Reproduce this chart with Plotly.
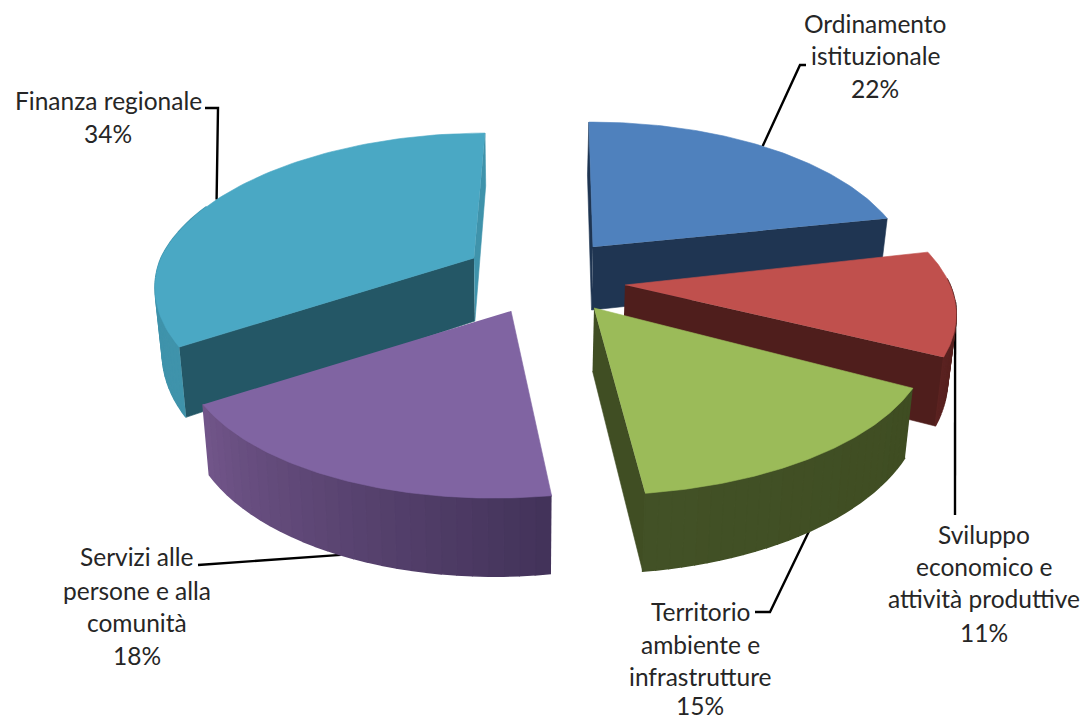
import numpy as np
import plotly.graph_objects as go

categories = ["Ordinamento istituzionale", "Sviluppo economico e attività produttive",
              "Territorio ambiente e infrastrutture", "Servizi alle persone e alla comunità",
              "Finanza regionale"]
shares = [22, 11, 15, 18, 34]
label_lines = [["Ordinamento", "istituzionale"],
               ["Sviluppo", "economico e", "attività produttive"],
               ["Territorio", "ambiente e", "infrastrutture"],
               ["Servizi alle", "persone e alla", "comunità"],
               ["Finanza regionale"]]

top_colors = ["#4f81bd", "#c0504d", "#9bbb59", "#8064a2", "#4aa8c4"]
start_colors = ["#1f3552", "#4f1e1c", "#404e23", "#5a4474", "#245766"]
end_colors = ["#1f3552", "#4f1e1c", "#404e23", "#5a4474", "#3f93ab"]
rim_colors = [("#1f3552", "#1f3552"), ("#4f1e1c", "#5a2220"), ("#3f4d22", "#425126"),
              ("#43335a", "#715589"), ("#3f93ab", "#3f93ab")]

# geometry of the projected pie (pixels)
APEX = [(593, 247), (625, 285), (594, 308), (511, 311), (474, 258)]
XR = [312, 325, 330, 320, 313]
YR = [149, 149, 151, 151, 149]
LEAN_BACK = [-1, 0, 0, 0, 11]
LEAN_FRONT = [0, 0, 0, 17, 0]
ROT = [-0.012, -0.044, 0, -0.02, 0]
Q, DEPTH = 0.193, 63
SHOW_START = [True, False, False, False, True]
SHOW_END = [True, True, True, False, True]
LABEL_POS = [(875, [23, 55, 88]), (984, [534, 566, 598, 632]), (700, [611, 644, 676, 705]),
             (137, [556, 590, 622, 655]), (108, [100, 133])]
ELBOWS = [[(800, 65), (806, 65)], [(955, 515)], [(770, 612), (755, 612)],
          [(198, 565)], [(218, 108), (205, 108)]]
LEAD_Z = [0, 0, 1, 1, 0]
LEAD_SHIFT = [0, 0, 0, 0, -0.065]

edges = np.cumsum([0] + shares) / sum(shares) * 2 * np.pi


def pt(i, th, z=0.0, r=1.0):
    th = np.asarray(th, float) + ROT[i]
    c, s = np.cos(th) * r, np.sin(th) * r
    w = 1 + Q * c
    lean = np.where(c > 0, LEAN_BACK[i], LEAN_FRONT[i])
    x = APEX[i][0] + XR[i] * s / w + lean * c
    y = APEX[i][1] - YR[i] * c / w + z * DEPTH / w
    x = x - z * 0.02 * (x - 520)
    return x, y


def mix(a, b, t):
    pa = [int(a[k:k + 2], 16) for k in (1, 3, 5)]
    pb = [int(b[k:k + 2], 16) for k in (1, 3, 5)]
    return "rgb(%d,%d,%d)" % tuple(round(u + (v - u) * t) for u, v in zip(pa, pb))


fig = go.Figure()


def poly(xs, ys, color, lw=0.6):
    fig.add_trace(go.Scatter(x=list(map(float, xs)), y=list(map(float, ys)), mode="lines", fill="toself",
                             fillcolor=color, line=dict(color=color, width=lw),
                             hoverinfo="skip", showlegend=False))


def line(xs, ys):
    fig.add_trace(go.Scatter(x=list(xs), y=list(ys), mode="lines",
                             line=dict(color="#000000", width=2.4), hoverinfo="skip", showlegend=False))


def face(i, th, color):
    x0, y0 = pt(i, th, 0)
    x1, y1 = pt(i, th, 1)
    ax, ay = pt(i, th, 0, 0)
    bx, by = pt(i, th, 1, 0)
    poly([ax, x0, x1, bx], [ay, y0, y1, by], color)


# leader lines first: the slices sit on top of their ends
for i in range(5):
    mid = (edges[i] + edges[i + 1]) / 2 + LEAD_SHIFT[i]
    sx, sy = pt(i, mid, LEAD_Z[i])
    line([float(sx)] + [p[0] for p in ELBOWS[i]], [float(sy)] + [p[1] for p in ELBOWS[i]])

for i in [0, 4, 1, 3, 2]:
    a, b = edges[i], edges[i + 1]
    if SHOW_START[i]:
        face(i, a, start_colors[i])
    if SHOW_END[i]:
        face(i, b, end_colors[i])
    # outer wall: only the part that faces the viewer
    lo = max(a, np.pi / 2)
    hi = min(b, 1.62 * np.pi)
    if hi > lo:
        n = 28
        ts = np.linspace(lo, hi, n + 1)
        for k in range(n):
            t2 = np.linspace(ts[k], ts[k + 1], 3)
            xa, ya = pt(i, t2, 0)
            xb, yb = pt(i, t2[::-1], 1)
            poly(np.r_[xa, xb], np.r_[ya, yb], mix(rim_colors[i][0], rim_colors[i][1], k / (n - 1)), lw=1.6)
    arc = np.linspace(a, b, 90)
    xa, ya = pt(i, arc)
    ax, ay = pt(i, a, 0, 0)
    poly(np.r_[ax, xa], np.r_[ay, ya], top_colors[i])

annotations = []
for i in range(5):
    rows = label_lines[i] + [f"{shares[i]}%"]
    cx, ys = LABEL_POS[i]
    for txt, yy in zip(rows, ys):
        annotations.append(dict(x=cx, y=yy, text=txt, showarrow=False, xanchor="center", yanchor="middle",
                                font=dict(family="Lato", size=24.5, color="#262626")))

fig.update_layout(width=1088, height=720, margin=dict(l=0, r=0, t=0, b=0), autosize=False,
                  paper_bgcolor="white", plot_bgcolor="white", showlegend=False,
                  xaxis=dict(range=[0, 1088], visible=False, fixedrange=True),
                  yaxis=dict(range=[720, 0], visible=False, fixedrange=True),
                  annotations=annotations)
fig.write_html("out.html", config=dict(displayModeBar=False),
               post_script="document.body.style.margin='0';document.body.style.overflow='hidden';")
